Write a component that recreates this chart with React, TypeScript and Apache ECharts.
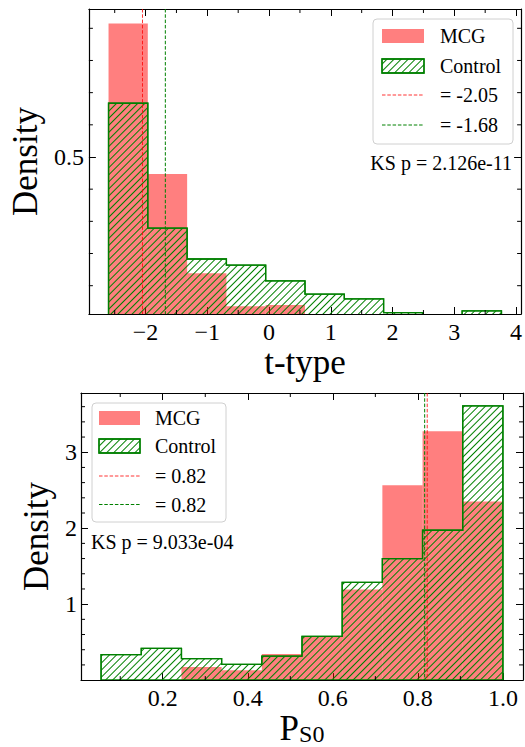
import React, { useEffect, useRef } from 'react';
import * as echarts from 'echarts';

const FONT = 'Liberation Serif';

// ---------- top panel: t-type ----------
const tEdges = [-2.6, -1.964, -1.327, -0.691, -0.055, 0.582, 1.218, 1.855, 2.491, 3.127, 3.764];
const tMCG = [0.915, 0.447, 0.139, 0.036, 0.04, 0, 0, 0, 0, 0];
const tControl = [0.667, 0.279, 0.183, 0.164, 0.115, 0.074, 0.059, 0.016, 0, 0.022];
const tMedians = [-2.05, -1.68];
const tXMajor = [-2, -1, 0, 1, 2, 3, 4];
const tXMinor = [-2.5, -1.5, -0.5, 0.5, 1.5, 2.5, 3.5];
const tYMajor = [0.5];
const tYMinor = [0.1, 0.2, 0.3, 0.4, 0.6, 0.7, 0.8, 0.9];
const tLegend = ['MCG', 'Control', '= -2.05', '= -1.68'];
const tKS = 'KS p = 2.126e-11';

// ---------- bottom panel: P_S0 ----------
const pEdges = [0.055, 0.1495, 0.244, 0.3385, 0.433, 0.5275, 0.622, 0.7165, 0.811, 0.9055, 1.0];
const pMCG = [0, 0, 0.174, 0.13, 0.344, 0.567, 1.193, 2.564, 3.275, 2.35];
const pControl = [0.336, 0.418, 0.284, 0.207, 0.315, 0.576, 1.287, 1.6, 1.973, 3.61];
const pMedians = [0.822, 0.816];
const pXMajor = [0.2, 0.4, 0.6, 0.8, 1.0];
const pXMinor = [0.1, 0.3, 0.5, 0.7, 0.9];
const pYMajor = [1, 2, 3];
const pYMinor = [0.2, 0.4, 0.6, 0.8, 1.2, 1.4, 1.6, 1.8, 2.2, 2.4, 2.6, 2.8, 3.2, 3.4, 3.6];
const pLegend = ['MCG', 'Control', '= 0.82', '= 0.82'];
const pKS = 'KS p = 9.033e-04';

const RED_FILL = 'rgba(255,0,0,0.5)';
const GREEN = '#008000';
const LINE_COLORS = ['rgba(255,0,0,0.8)', GREEN];
const HATCH: any = {
  symbol: 'rect',
  symbolSize: 1,
  dashArrayX: [1, 0],
  dashArrayY: [1, 3.5],
  rotation: -Math.PI / 4,
  color: GREEN,
  backgroundColor: 'rgba(0,0,0,0)',
};

const minus = (v: number) => (v < 0 ? '\u2212' + String(Math.abs(v)) : String(v));

function xAxisCfg(grid: number, min: number, max: number, pos: string, major: number[], showLabel: boolean, fmt?: any, name?: any, nameGap?: number, rich?: any) {
  return {
    type: 'value', gridIndex: grid, min, max, position: pos,
    axisLine: { show: true, onZero: false, lineStyle: { color: '#000', width: 1.2 } },
    axisTick: { show: true, inside: true, length: 7, customValues: major, lineStyle: { color: '#000', width: 1 } },
    axisLabel: { show: showLabel, customValues: major, formatter: fmt, fontFamily: FONT, fontSize: 24, color: '#000', margin: 6 },
    splitLine: { show: false },
    name: name || '', nameLocation: 'middle', nameGap: nameGap || 0,
    nameTextStyle: { fontFamily: FONT, fontSize: 35, color: '#000', rich },
  };
}

function yAxisCfg(grid: number, min: number, max: number, pos: string, major: number[], showLabel: boolean, fmt?: any, name?: string, nameGap?: number, margin?: number) {
  return {
    type: 'value', gridIndex: grid, min, max, position: pos,
    axisLine: { show: true, onZero: false, lineStyle: { color: '#000', width: 1.2 } },
    axisTick: { show: true, inside: true, length: 7, customValues: major, lineStyle: { color: '#000', width: 1 } },
    axisLabel: { show: showLabel, customValues: major, formatter: fmt, fontFamily: FONT, fontSize: 24, color: '#000', margin: margin || 5 },
    splitLine: { show: false },
    name: name || '', nameLocation: 'middle', nameGap: nameGap || 0,
    nameTextStyle: { fontFamily: FONT, fontSize: 35, color: '#000' },
  };
}

function barSeries(xi: number, yi: number, edges: number[], vals: number[]) {
  return {
    type: 'custom', xAxisIndex: xi, yAxisIndex: yi, clip: true, silent: true, z: 2,
    data: vals.map((h, i) => [edges[i], edges[i + 1], h]),
    encode: { x: [0, 1], y: 2 },
    renderItem: (params: any, api: any) => {
      const h = api.value(2);
      if (!h) return { type: 'group', children: [] };
      const a = api.coord([api.value(0), h]);
      const b = api.coord([api.value(1), 0]);
      return {
        type: 'rect',
        shape: { x: a[0], y: a[1], width: b[0] - a[0], height: b[1] - a[1] },
        style: { fill: RED_FILL },
      };
    },
  };
}

function stepSeries(xi: number, yi: number, edges: number[], vals: number[]) {
  return {
    type: 'custom', xAxisIndex: xi, yAxisIndex: yi, clip: true, silent: true, z: 3,
    data: vals.map((h, i) => [edges[i], edges[i + 1], h]),
    encode: { x: [0, 1], y: 2 },
    renderItem: (params: any, api: any) => {
      if (params.dataIndex !== 0) return { type: 'group', children: [] };
      const pts: number[][] = [];
      pts.push(api.coord([edges[0], 0]));
      for (let i = 0; i < vals.length; i++) {
        pts.push(api.coord([edges[i], vals[i]]));
        pts.push(api.coord([edges[i + 1], vals[i]]));
      }
      pts.push(api.coord([edges[edges.length - 1], 0]));
      return {
        type: 'polygon',
        shape: { points: pts },
        style: { fill: 'none', stroke: GREEN, lineWidth: 1.3, decal: HATCH },
      };
    },
  };
}

function vlineSeries(xi: number, yi: number, vals: number[]) {
  return {
    type: 'custom', xAxisIndex: xi, yAxisIndex: yi, clip: true, silent: true, z: 4,
    data: vals.map((v) => [v, 0]),
    encode: { x: 0, y: 1 },
    renderItem: (params: any, api: any) => {
      const x = api.coord([api.value(0), 0])[0];
      const cs = params.coordSys;
      return {
        type: 'line',
        shape: { x1: x, y1: cs.y, x2: x, y2: cs.y + cs.height },
        style: { stroke: LINE_COLORS[params.dataIndex], lineWidth: 1, lineDash: [3.5, 1.8] },
      };
    },
  };
}

function minorTickSeries(xi: number, yi: number, vals: number[], dir: 'x' | 'y') {
  return {
    type: 'custom', xAxisIndex: xi, yAxisIndex: yi, clip: false, silent: true, z: 5,
    data: vals.map((v) => (dir === 'x' ? [v, 0] : [0, v])),
    encode: { x: 0, y: 1 },
    renderItem: (params: any, api: any) => {
      const cs = params.coordSys;
      const p = api.coord([api.value(0), api.value(1)]);
      const st = { stroke: '#000', lineWidth: 1 };
      if (dir === 'x') {
        return {
          type: 'group', children: [
            { type: 'line', shape: { x1: p[0], y1: cs.y + cs.height, x2: p[0], y2: cs.y + cs.height - 4 }, style: st },
            { type: 'line', shape: { x1: p[0], y1: cs.y, x2: p[0], y2: cs.y + 4 }, style: st },
          ],
        };
      }
      return {
        type: 'group', children: [
          { type: 'line', shape: { x1: cs.x, y1: p[1], x2: cs.x + 4, y2: p[1] }, style: st },
          { type: 'line', shape: { x1: cs.x + cs.width, y1: p[1], x2: cs.x + cs.width - 4, y2: p[1] }, style: st },
        ],
      };
    },
  };
}

function legendSeries() {
  const boxes = [
    { x: 373, y: 19, w: 140, h: 125, px: 382, pw: 42, rows: [36, 66, 95, 125] },
    { x: 92, y: 403, w: 134, h: 119, px: 99, pw: 41, rows: [418, 446, 476, 504.5] },
  ];
  return {
    type: 'custom', coordinateSystem: 'none', silent: true, z: 10,
    data: [0],
    renderItem: () => {
      const children: any[] = [];
      boxes.forEach((b) => {
        children.push({ type: 'rect', shape: { x: b.x, y: b.y, width: b.w, height: b.h, r: 4 }, style: { fill: 'rgba(255,255,255,0.8)', stroke: '#d0d0d0', lineWidth: 1 } });
        children.push({ type: 'rect', shape: { x: b.px, y: b.rows[0] - 7, width: b.pw, height: 14 }, style: { fill: RED_FILL } });
        children.push({ type: 'rect', shape: { x: b.px, y: b.rows[1] - 7, width: b.pw, height: 14 }, style: { fill: 'none', stroke: GREEN, lineWidth: 1.3, decal: HATCH } });
        children.push({ type: 'line', shape: { x1: b.px, y1: b.rows[2], x2: b.px + b.pw, y2: b.rows[2] }, style: { stroke: LINE_COLORS[0], lineWidth: 1, lineDash: [3.5, 1.8] } });
        children.push({ type: 'line', shape: { x1: b.px, y1: b.rows[3], x2: b.px + b.pw, y2: b.rows[3] }, style: { stroke: LINE_COLORS[1], lineWidth: 1, lineDash: [3.5, 1.8] } });
      });
      return { type: 'group', children };
    },
  };
}

export default function App() {
  const ref = useRef<HTMLDivElement>(null);
  useEffect(() => {
    if (!ref.current) return;
    const chart = echarts.init(ref.current, null, { renderer: 'svg' });
    const tX = [-2.918, 4.082];
    const tY = [0.012, 0.96];
    const pX = [0.00775, 1.04725];
    const pY = [0, 3.78];
    const legendText = (labels: string[], x: number, rows: number[]) =>
      labels.map((s, i) => ({
        type: 'text', z: 100, left: undefined, x, y: rows[i],
        style: { text: s, x: 0, y: 0, fontFamily: FONT, fontSize: 20, fill: '#000', verticalAlign: 'middle', align: 'left' },
      }));
    const option: any = {
      animation: false,
      textStyle: { fontFamily: FONT },
      grid: [
        { left: 85, top: 9, width: 438, height: 305 },
        { left: 81, top: 393, width: 442, height: 293 },
      ],
      xAxis: [
        xAxisCfg(0, tX[0], tX[1], 'bottom', tXMajor, true, minus, 't-type', 20),
        xAxisCfg(0, tX[0], tX[1], 'top', tXMajor, false),
        xAxisCfg(1, pX[0], pX[1], 'bottom', pXMajor, true, (v: number) => v.toFixed(1), '{p|P}{s|S0}', 24, {
          p: { fontFamily: FONT, fontSize: 35, color: '#000' },
          s: { fontFamily: FONT, fontSize: 24, color: '#000', verticalAlign: 'bottom', padding: [0, 0, 0, 0] },
        }),
        xAxisCfg(1, pX[0], pX[1], 'top', pXMajor, false),
      ],
      yAxis: [
        yAxisCfg(0, tY[0], tY[1], 'left', tYMajor, true, (v: number) => v.toFixed(1), 'Density', 41, 5),
        yAxisCfg(0, tY[0], tY[1], 'right', tYMajor, false),
        yAxisCfg(1, pY[0], pY[1], 'left', pYMajor, true, (v: number) => String(v), 'Density', 19, 4),
        yAxisCfg(1, pY[0], pY[1], 'right', pYMajor, false),
      ],
      series: [
        barSeries(0, 0, tEdges, tMCG),
        stepSeries(0, 0, tEdges, tControl),
        vlineSeries(0, 0, tMedians),
        minorTickSeries(0, 0, tXMinor, 'x'),
        minorTickSeries(0, 0, tYMinor, 'y'),
        barSeries(2, 2, pEdges, pMCG),
        stepSeries(2, 2, pEdges, pControl),
        vlineSeries(2, 2, pMedians),
        minorTickSeries(2, 2, pXMinor, 'x'),
        minorTickSeries(2, 2, pYMinor, 'y'),
        legendSeries(),
      ],
      graphic: [
        ...legendText(tLegend, 440, [36, 66, 95, 125]),
        ...legendText(pLegend, 155, [418, 446, 476, 504.5]),
        { type: 'text', z: 100, x: 512, y: 163, style: { text: tKS, fontFamily: FONT, fontSize: 20, fill: '#000', align: 'right', verticalAlign: 'middle' } },
        { type: 'text', z: 100, x: 91, y: 542, style: { text: pKS, fontFamily: FONT, fontSize: 20, fill: '#000', align: 'left', verticalAlign: 'middle' } },
      ],
    };
    chart.setOption(option);
    return () => chart.dispose();
  }, []);
  return <div ref={ref} style={{ position: 'absolute', left: 0, top: 0, width: 525, height: 747 }} />;
}
